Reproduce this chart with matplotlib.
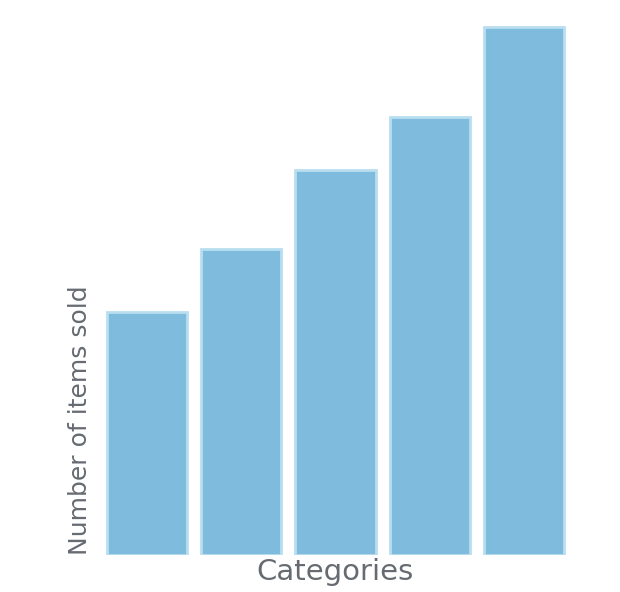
import matplotlib
matplotlib.use('Agg')
import matplotlib.pyplot as plt
import numpy as np

categories = ['A', 'B', 'C', 'D', 'E']
values = [46, 58, 73, 83, 100]

fig = plt.figure(figsize=(6.2, 5.92), dpi=100)
ax = fig.add_axes([0.153, 0.0625, 0.776, 0.905])

x = np.arange(len(categories))
ax.bar(x, values, width=0.85, color='#7fbbdc', edgecolor='#b9def0', linewidth=2)

ax.set_xlim(-0.55, 4.55)
ax.set_ylim(0, 101.5)
ax.set_xticks([])
ax.set_yticks([])
for s in ax.spines.values():
    s.set_visible(False)

ax.set_xlabel('Categories', fontsize=21, color='#666b72', labelpad=2)
ax.set_ylabel('Number of items sold', fontsize=18, color='#666b72', loc='bottom', labelpad=2)

plt.savefig('out.png', dpi=100)
